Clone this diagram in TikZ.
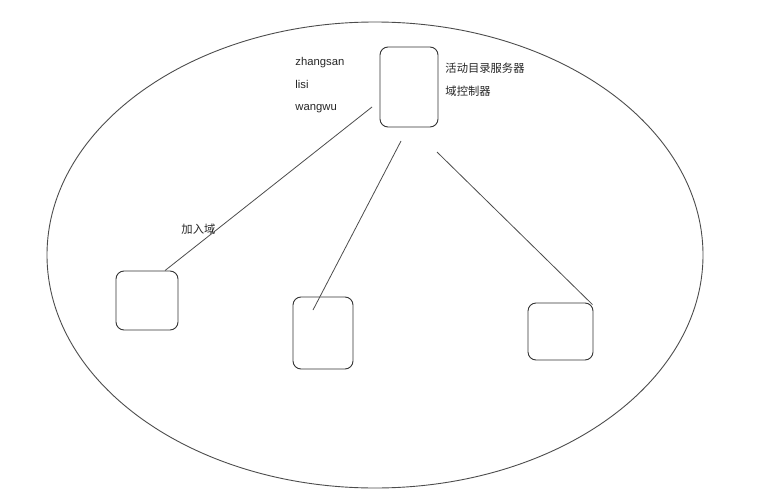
\documentclass[tikz,border=0pt]{standalone}
\usepackage{fontspec}
\setmainfont{Liberation Sans}
\newfontfamily\cjk{Noto Sans CJK SC}
\usetikzlibrary{calc}

\begin{document}
\begin{tikzpicture}[x=1pt, y=-1pt, line width=0.9pt,
    pc/.style={rectangle, draw=black!80, rounded corners=8pt, inner sep=0pt},
    lbl/.style={font=\fontsize{11.3}{13}\selectfont, inner sep=0pt, anchor=base west, text=black!85},
    link/.style={draw=black!70, line width=0.8pt}]
    \useasboundingbox (0,0) rectangle (773,495);
    \draw[black!70] (375,255) ellipse [x radius=328, y radius=233];

    \node[pc, minimum width=58pt, minimum height=80pt] (ad) at (409,87) {};
    \node[pc, minimum width=62pt, minimum height=59pt] (pc1) at (147,300.5) {};
    \node[pc, minimum width=60pt, minimum height=72pt] (pc2) at (323,333) {};
    \node[pc, minimum width=65pt, minimum height=57pt] (pc3) at (560.5,331.5) {};

    \node[lbl] (u1) at (295,66) {zhangsan};
    \node[lbl] (u2) at (295,88) {lisi};
    \node[lbl] (u3) at (295,110) {wangwu};
    \node[lbl] (ad1) at (445,73) {\cjk 活动目录服务器};
    \node[lbl] (ad2) at (445,95) {\cjk 域控制器};
    \node[lbl] (join) at (181,233) {\cjk 加入域};

    \coordinate (a1) at (372,107);
    \coordinate (a2) at (401,141);
    \coordinate (a3) at (437,152);
    \coordinate (b2) at (313,310);
    \draw[link] (a1) -- ($(pc1.north)+(18,0)$);
    \draw[link] (a2) -- (b2);
    \draw[link] (a3) -- ($(pc3.north east)+(-1,2)$);
\end{tikzpicture}
\end{document}
